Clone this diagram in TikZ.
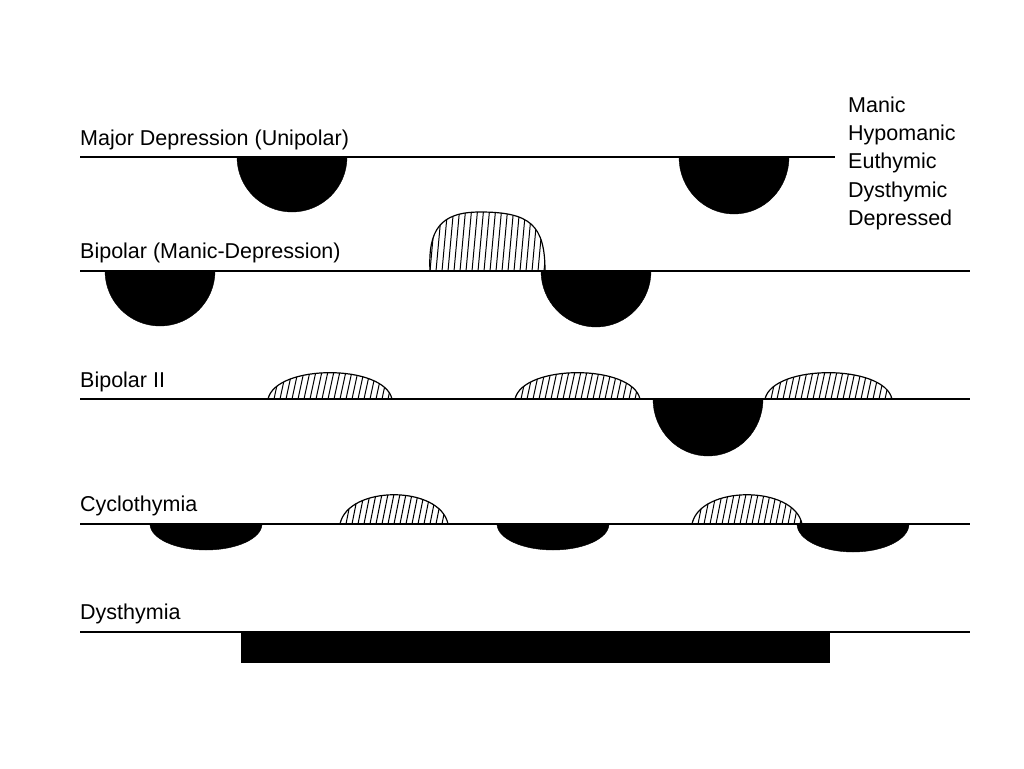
\documentclass[tikz,border=0pt]{standalone}
\usepackage{fontspec}
\setmainfont{Liberation Sans}
\begin{document}
\begin{tikzpicture}[x=1pt,y=-1pt,
  lbl/.style={anchor=base west,font=\fontsize{21.5}{24}\selectfont,inner sep=0pt},
  base/.style={line width=1.3pt},
  blk/.style={fill=black}]
\useasboundingbox (0,0) rectangle (1024,768);
% hatched bump: left x, right x, baseline y, height
\newcommand{\hatchbump}[4]{%
  \begin{scope}
   \clip (#1,#3) .. controls (#1+8,#3-#4*1.3) and (#2-8,#3-#4*1.3) .. (#2,#3) -- cycle;
   \foreach \k in {0,6,...,160}{\draw[line width=1pt] ({#1+\k},#3) -- ({#1+\k+8},{#3-#4-10});}
  \end{scope}
  \draw[line width=1.2pt] (#1,#3) .. controls (#1+8,#3-#4*1.3) and (#2-8,#3-#4*1.3) .. (#2,#3);}
% text
\node[lbl] (t1) at (80,145) {Major Depression (Unipolar)};
\node[lbl] (t2) at (80,258) {Bipolar (Manic-Depression)};
\node[lbl] (t3) at (80,387) {Bipolar II};
\node[lbl] (t4) at (80,511) {Cyclothymia};
\node[lbl] (t5) at (80,619) {Dysthymia};
\foreach \t/\y in {Manic/112,Hypomanic/140,Euthymic/168,Dysthymic/197,Depressed/225}
  \node[lbl] at (848,\y) {\t};
% line 1
\draw[blk] (237,157) arc[start angle=180,end angle=360,x radius=55,y radius=-55] -- cycle;
\draw[blk] (679,157) arc[start angle=180,end angle=360,x radius=55,y radius=-57] -- cycle;
\draw[base] (80,157) -- (835,157);
% line 2
\draw[blk] (105,271) arc[start angle=180,end angle=360,x radius=55,y radius=-55] -- cycle;
\draw[blk] (541,271) arc[start angle=180,end angle=360,x radius=55,y radius=-56] -- cycle;
\begin{scope}
 \clip (430,271) .. controls (428,230) and (440,212) .. (480,212) .. controls (530,212) and (545,225) .. (545,271) -- cycle;
 \foreach \k in {0,6,...,130}{\draw[line width=1pt] ({430+\k},271) -- ({436+\k},205);}
\end{scope}
\draw[line width=1.2pt] (430,271) .. controls (428,230) and (440,212) .. (480,212) .. controls (530,212) and (545,225) .. (545,271);
\draw[base] (80,271) -- (970,271);
% line 3
\hatchbump{268}{392}{399}{27}
\hatchbump{515}{640}{399}{27}
\hatchbump{765}{892}{399}{27}
\draw[blk] (653,399) arc[start angle=180,end angle=360,x radius=55,y radius=-57] -- cycle;
\draw[base] (80,399) -- (970,399);
% line 4
\hatchbump{340}{448}{524}{30}
\hatchbump{692}{802}{524}{30}
\draw[blk] (150,524) arc[start angle=180,end angle=360,x radius=56,y radius=-26] -- cycle;
\draw[blk] (497,524) arc[start angle=180,end angle=360,x radius=56,y radius=-26] -- cycle;
\draw[blk] (797,524) arc[start angle=180,end angle=360,x radius=56,y radius=-28] -- cycle;
\draw[base] (80,524) -- (970,524);
% line 5
\fill (241,632) rectangle (830,663);
\draw[base] (80,632) -- (970,632);
\end{tikzpicture}
\end{document}
